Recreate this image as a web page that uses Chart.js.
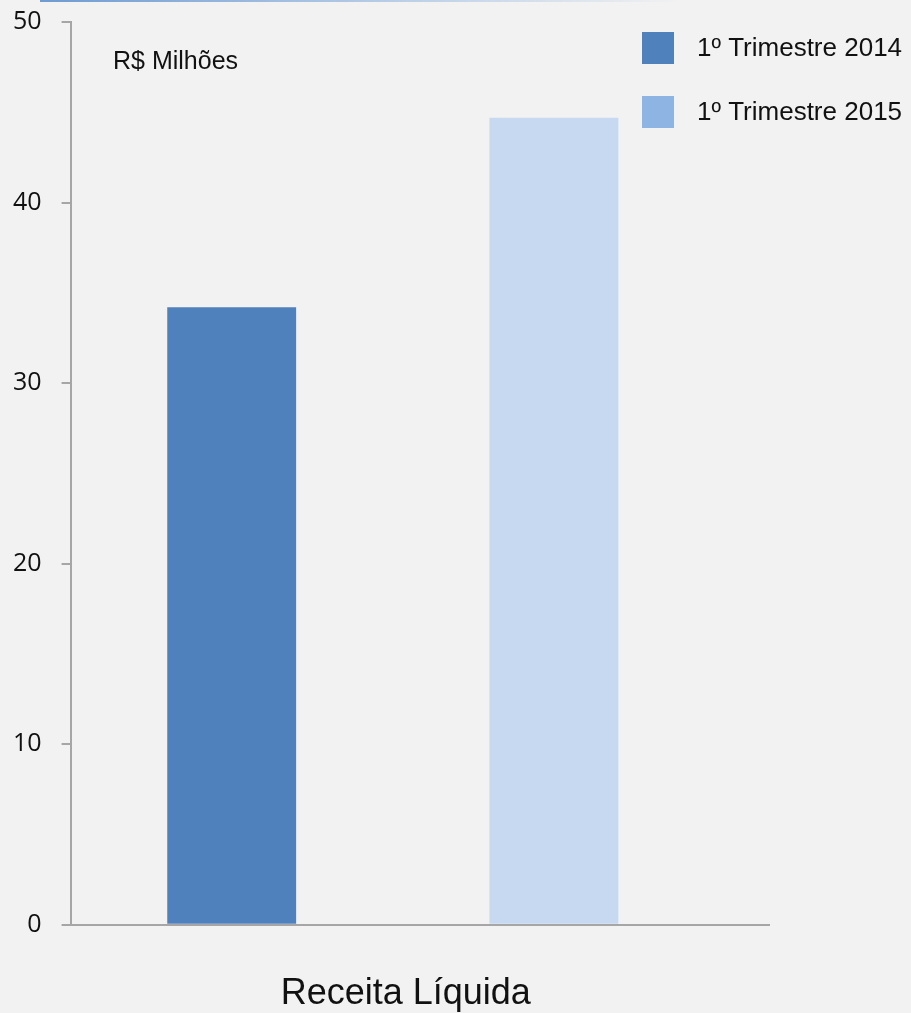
<!DOCTYPE html>
<html lang="pt">
<head>
    <meta charset="UTF-8">
    <title>Receita Líquida</title>
    <script src="https://cdn.jsdelivr.net/npm/chart.js"></script>
    <style>
        body { margin: 0; background: #f2f2f2; }
        .topline {
            position: absolute; left: 40px; top: 0; width: 640px; height: 2px;
            background: linear-gradient(to right, #6f9bd1, #b9cde6 55%, rgba(242,242,242,0));
        }
        #wrap { width: 911px; height: 1013px; }
    </style>
</head>
<body>
    <div class="topline"></div>
    <div id="wrap"><canvas id="receitaChart" width="911" height="1013"></canvas></div>

    <script>
        // dados
        const categorias = ['Receita Líquida'];
        const series = ['1º Trimestre 2014', '1º Trimestre 2015'];
        const valores2014 = [34.2];
        const valores2015 = [44.7];
        const yTicks = [0, 10, 20, 30, 40, 50];
        const unidade = 'R$ Milhões';

        const corBarras = ['#4f81bd', '#c6d9f1'];
        const corLegenda = ['#4f81bd', '#8db4e3'];
        const corEixo = '#a6a6a6';

        // legenda desenhada por cima da area do grafico + prolongamento do eixo x
        const legendaPlugin = {
            id: 'legendaCustom',
            afterDatasetsDraw(chart) {
                const ctx = chart.ctx;
                const a = chart.chartArea;
                const sx = chart.scales.x;
                const y = sx._borderValue !== undefined ? sx._borderValue : sx.top;
                ctx.save();
                ctx.strokeStyle = corEixo;
                ctx.lineWidth = 2;
                ctx.beginPath();
                ctx.moveTo(a.left, y);
                ctx.lineTo(a.right + 55, y);
                ctx.stroke();
                ctx.restore();
            },
            afterDraw(chart) {
                const ctx = chart.ctx;
                ctx.save();
                ctx.textBaseline = 'middle';
                ctx.textAlign = 'left';
                ctx.font = '26px "Liberation Sans", Arial, sans-serif';
                chart.data.datasets.forEach((ds, i) => {
                    const y = 32 + i * 64;
                    ctx.fillStyle = corLegenda[i];
                    ctx.fillRect(642, y, 32, 32);
                    ctx.fillStyle = '#111';
                    ctx.fillText(ds.label, 697, y + 17);
                });
                ctx.font = '25px "Liberation Sans", Arial, sans-serif';
                ctx.textBaseline = 'alphabetic';
                ctx.fillText(unidade, 113, 69);
                ctx.restore();
            }
        };

        new Chart(document.getElementById('receitaChart').getContext('2d'), {
            type: 'bar',
            data: {
                labels: categorias,
                datasets: [
                    { label: series[0], data: valores2014, backgroundColor: corBarras[0] },
                    { label: series[1], data: valores2015, backgroundColor: corBarras[1] }
                ]
            },
            options: {
                responsive: false,
                animation: false,
                categoryPercentage: 1,
                barPercentage: 0.4,
                layout: { padding: { left: -7, right: 196, top: 22, bottom: -43 } },
                plugins: {
                    legend: { display: false },
                    tooltip: { enabled: false }
                },
                scales: {
                    x: {
                        grid: { display: false },
                        border: { display: false },
                        ticks: {
                            color: '#111',
                            padding: 40,
                            labelOffset: 13,
                            font: { family: '"Liberation Sans", Arial, sans-serif', size: 36 }
                        }
                    },
                    y: {
                        min: 0,
                        max: 50,
                        afterBuildTicks: axis => { axis.ticks = yTicks.map(v => ({ value: v })); },
                        afterFit: axis => { axis.paddingTop = 0; },
                        grid: { drawOnChartArea: false, color: corEixo, tickLength: 9, lineWidth: 2 },
                        border: { color: corEixo, width: 2 },
                        ticks: {
                            color: '#111',
                            padding: 20,
                            font: { family: '"Open Sans", sans-serif', size: 25 }
                        }
                    }
                }
            },
            plugins: [legendaPlugin]
        });
    </script>
</body>
</html>
